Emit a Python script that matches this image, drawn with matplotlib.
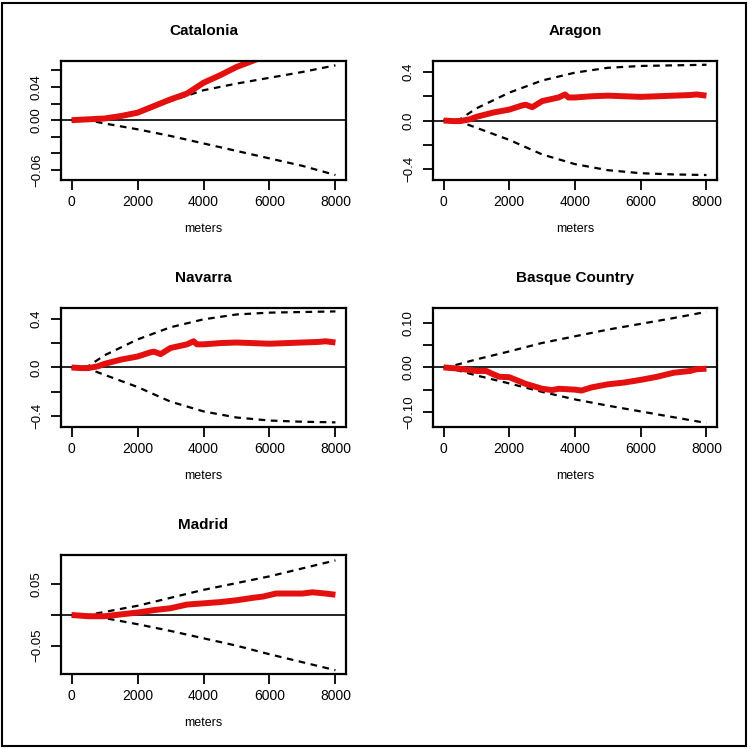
import matplotlib
matplotlib.use("Agg")
import matplotlib.pyplot as plt
from matplotlib.patches import Rectangle

plt.rcParams['font.family'] = ['Liberation Sans', 'DejaVu Sans']

# ---------------- data ----------------
titles = ["Catalonia", "Aragon", "Navarra", "Basque Country", "Madrid"]

cat_x = [0, 500, 1000, 1500, 2000, 2500, 3000, 3500, 4000, 4500, 5000, 5500, 5700]
cat_obs = [0.0, 0.001, 0.002, 0.005, 0.009, 0.017, 0.025, 0.032, 0.045, 0.054, 0.064, 0.0715, 0.075]
cat_env_x = [0, 500, 1000, 2000, 3000, 4000, 5000, 6000, 7000, 8000]
cat_upper = [0.0, 0.0, 0.003, 0.010, 0.023, 0.036, 0.044, 0.051, 0.058, 0.066]
cat_lower = [0.0, 0.0, -0.004, -0.011, -0.019, -0.028, -0.037, -0.046, -0.055, -0.066]

ara_x = [0, 300, 500, 800, 1000, 1500, 2000, 2400, 2500, 2700, 3000, 3500, 3700, 3800, 4000,
         4500, 5000, 5500, 6000, 6500, 7000, 7500, 7700, 8000]
ara_obs = [0.0, -0.005, -0.005, 0.01, 0.03, 0.065, 0.09, 0.125, 0.13, 0.11, 0.16, 0.19, 0.215,
           0.19, 0.19, 0.20, 0.205, 0.20, 0.195, 0.20, 0.205, 0.21, 0.215, 0.205]
ara_env_x = [0, 500, 1000, 2000, 3000, 4000, 5000, 6000, 7000, 8000]
ara_upper = [0.0, 0.01, 0.10, 0.23, 0.33, 0.395, 0.435, 0.45, 0.455, 0.46]
ara_lower = [0.0, -0.01, -0.06, -0.16, -0.28, -0.36, -0.41, -0.435, -0.445, -0.45]

nav_x = ara_x
nav_obs = [0.0, -0.005, -0.005, 0.01, 0.03, 0.065, 0.09, 0.125, 0.13, 0.11, 0.16, 0.19, 0.215,
           0.19, 0.19, 0.20, 0.205, 0.20, 0.195, 0.20, 0.205, 0.21, 0.215, 0.205]
nav_env_x = ara_env_x
nav_upper = [0.0, 0.01, 0.10, 0.23, 0.33, 0.395, 0.435, 0.45, 0.455, 0.46]
nav_lower = [0.0, -0.01, -0.06, -0.16, -0.28, -0.36, -0.41, -0.435, -0.445, -0.45]

bas_x = [0, 500, 1000, 1300, 1500, 1700, 2000, 2500, 3000, 3300, 3500, 4000, 4200, 4500,
         5000, 5500, 6000, 6500, 7000, 7500, 7700, 8000]
bas_obs = [0.0, -0.003, -0.008, -0.008, -0.015, -0.021, -0.022, -0.037, -0.048, -0.051,
           -0.048, -0.050, -0.052, -0.045, -0.038, -0.034, -0.028, -0.021, -0.012, -0.008,
           -0.004, -0.003]
bas_env_x = [0, 100, 1000, 2000, 3000, 4000, 5000, 6000, 7000, 8000]
bas_upper = [0.0, 0.0, 0.018, 0.036, 0.055, 0.070, 0.085, 0.098, 0.111, 0.125]
bas_lower = [0.0, 0.0, -0.018, -0.036, -0.055, -0.072, -0.086, -0.099, -0.112, -0.125]

mad_x = [0, 500, 1000, 1500, 2000, 2500, 3000, 3500, 4000, 4500, 5000, 5500, 5800, 6200,
         6500, 7000, 7300, 7700, 8000]
mad_obs = [0.0, -0.002, -0.002, 0.001, 0.004, 0.008, 0.011, 0.017, 0.019, 0.021, 0.024,
           0.028, 0.030, 0.035, 0.035, 0.035, 0.037, 0.035, 0.033]
mad_env_x = [0, 500, 1000, 2000, 3000, 4000, 5000, 6000, 7000, 8000]
mad_upper = [0.0, 0.0, 0.005, 0.015, 0.028, 0.041, 0.052, 0.063, 0.076, 0.089]
mad_lower = [0.0, 0.0, -0.005, -0.015, -0.026, -0.038, -0.050, -0.064, -0.077, -0.090]

panels = [
    (cat_x, cat_obs, cat_env_x, cat_upper, cat_lower),
    (ara_x, ara_obs, ara_env_x, ara_upper, ara_lower),
    (nav_x, nav_obs, nav_env_x, nav_upper, nav_lower),
    (bas_x, bas_obs, bas_env_x, bas_upper, bas_lower),
    (mad_x, mad_obs, mad_env_x, mad_upper, mad_lower),
]
ylims = [(-0.072, 0.0712), (-0.491, 0.491), (-0.488, 0.488), (-0.134, 0.1336), (-0.0962, 0.0978)]
yticks = [[-0.06, -0.04, -0.02, 0.0, 0.02, 0.04, 0.06],
          [-0.4, -0.2, 0.0, 0.2, 0.4],
          [-0.4, -0.2, 0.0, 0.2, 0.4],
          [-0.10, -0.05, 0.0, 0.05, 0.10],
          [-0.05, 0.0, 0.05]]
ylabels = [["−0.06", "", "", "0.00", "", "0.04", ""],
           ["−0.4", "", "0.0", "", "0.4"],
           ["−0.4", "", "0.0", "", "0.4"],
           ["−0.10", "", "0.00", "", "0.10"],
           ["−0.05", "", "0.05"]]
xticks = [0, 2000, 4000, 6000, 8000]

# --------------- layout ---------------
W, H = 750, 749
fig = plt.figure(figsize=(W / 100, H / 100), dpi=100)
boxes = [(61, 61, 346, 180), (433, 61, 717, 180), (61, 308, 346, 427),
         (433, 308, 717, 427), (61, 555, 346, 674)]

fig.patches.append(Rectangle((2 / W, 3 / H), 744 / W, 743 / H, transform=fig.transFigure,
                             fill=False, edgecolor='black', linewidth=1.5))

for i, (x0, y0, x1, y1) in enumerate(boxes):
    ax = fig.add_axes([x0 / W, 1 - y1 / H, (x1 - x0) / W, (y1 - y0) / H])
    ox, obs, ex, up, lo = panels[i]
    ax.axhline(0, color='black', lw=1.2)
    ax.plot(ex, up, color='black', lw=1.6, ls=(0, (3, 2.5)))
    ax.plot(ex, lo, color='black', lw=1.6, ls=(0, (3, 2.5)))
    ax.plot(ox, obs, color='#e41010', lw=4.3, solid_capstyle='butt')
    ax.set_xlim(-320, 8320)
    ax.set_ylim(*ylims[i])
    ax.set_xticks(xticks)
    ax.set_xticklabels([str(v) for v in xticks], fontsize=10)
    ax.set_yticks(yticks[i])
    ax.set_yticklabels(ylabels[i], fontsize=9.5, rotation=90, va='center')
    ax.tick_params(direction='out', length=7, width=1.3)
    ax.tick_params(axis='y', pad=6)
    ax.tick_params(axis='x', pad=4)
    for s in ax.spines.values():
        s.set_linewidth(1.6)
    ax.set_title(titles[i], fontsize=11, fontweight='bold', pad=19)
    ax.set_xlabel("meters", fontsize=9, labelpad=10)

fig.savefig("out.png", dpi=100)
